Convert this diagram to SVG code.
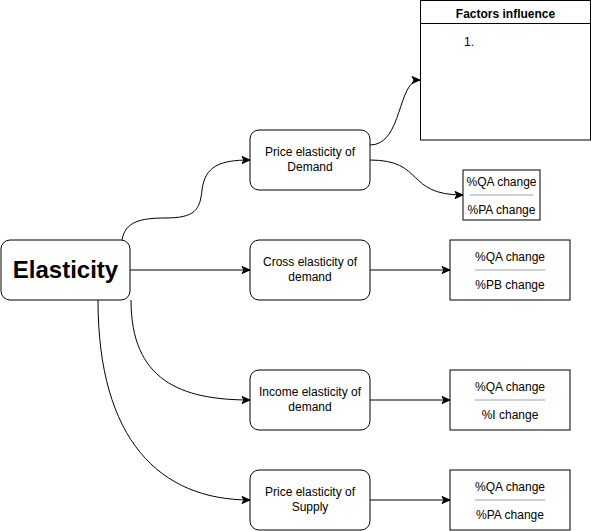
<svg xmlns="http://www.w3.org/2000/svg" width="591" height="531" viewBox="0 0 591 531">
<style>
.n{fill:#fff;stroke:#000;stroke-width:1}
.t{font-family:"Liberation Sans",Arial,sans-serif;font-size:12px;fill:#000;text-anchor:middle}
.b{font-weight:bold}
.c{fill:none;stroke:#000;stroke-width:1}
.d{stroke:#a0a0a0;stroke-width:1}
</style>
<defs>
<marker id="a" markerWidth="10" markerHeight="10" refX="9" refY="5" orient="auto" markerUnits="userSpaceOnUse">
<path d="M1,1.5 L9,5 L1,8.5 L3,5 Z" fill="#000" stroke="#000" stroke-width="1"/>
</marker>
</defs>
<rect width="591" height="531" fill="#fff"/>
<g id="connectors">
<path class="c" marker-end="url(#a)" d="M122,240 C125,222 140,218 165,218 C195,218 200,210 202,190 C205,166 220,160 250,160"/>
<path class="c" marker-end="url(#a)" d="M130,270 L250,270"/>
<path class="c" marker-end="url(#a)" d="M131,300 C131,380 180,400 250,400"/>
<path class="c" marker-end="url(#a)" d="M98,300 C98,440 160,500 250,500"/>
<path class="c" marker-end="url(#a)" d="M370,145 C403,145 397,80 420,80"/>
<path class="c" marker-end="url(#a)" d="M370,160 C425,160 405,195 463,195"/>
<path class="c" marker-end="url(#a)" d="M370,270 L450,270"/>
<path class="c" marker-end="url(#a)" d="M370,400 L450,400"/>
<path class="c" marker-end="url(#a)" d="M370,500 L450,500"/>
</g>
<g id="elasticity">
<rect class="n" x="1" y="240" width="129" height="60" rx="9"/>
<text class="t b" x="65.5" y="278" style="font-size:24px">Elasticity</text>
</g>
<g id="price-demand">
<rect class="n" x="250" y="130" width="120" height="60" rx="9"/>
<text class="t" x="310" y="156">Price elasticity of</text>
<text class="t" x="310" y="171">Demand</text>
</g>
<g id="cross-demand">
<rect class="n" x="250" y="240" width="120" height="60" rx="9"/>
<text class="t" x="310" y="266">Cross elasticity of</text>
<text class="t" x="310" y="281">demand</text>
</g>
<g id="income-demand">
<rect class="n" x="250" y="370" width="120" height="60" rx="9"/>
<text class="t" x="310" y="396">Income elasticity of</text>
<text class="t" x="310" y="411">demand</text>
</g>
<g id="price-supply">
<rect class="n" x="250" y="470" width="120" height="60" rx="9"/>
<text class="t" x="310" y="496">Price elasticity of</text>
<text class="t" x="310" y="511">Supply</text>
</g>
<g id="factors">
<rect class="n" x="420.5" y="0.5" width="170" height="139.5"/>
<line x1="420.5" y1="23.5" x2="590.5" y2="23.5" stroke="#000"/>
<text class="t b" x="505.5" y="17.5">Factors influence</text>
<text class="t" x="464" y="46" style="text-anchor:start">1.</text>
</g>
<g id="result-pa">
<rect class="n" x="463" y="170" width="77" height="50"/>
<line class="d" x1="470" y1="195" x2="533" y2="195"/>
<text class="t" x="501.5" y="186">%QA change</text>
<text class="t" x="501.5" y="214">%PA change</text>
</g>
<g id="result-pb">
<rect class="n" x="450" y="240" width="120" height="60"/>
<line class="d" x1="475" y1="270" x2="545" y2="270"/>
<text class="t" x="510" y="261">%QA change</text>
<text class="t" x="510" y="289">%PB change</text>
</g>
<g id="result-i">
<rect class="n" x="450" y="370" width="120" height="60"/>
<line class="d" x1="475" y1="400" x2="545" y2="400"/>
<text class="t" x="510" y="391">%QA change</text>
<text class="t" x="510" y="419">%I change</text>
</g>
<g id="result-supply">
<rect class="n" x="450" y="470" width="120" height="60"/>
<line class="d" x1="475" y1="500" x2="545" y2="500"/>
<text class="t" x="510" y="491">%QA change</text>
<text class="t" x="510" y="519">%PA change</text>
</g>
</svg>
